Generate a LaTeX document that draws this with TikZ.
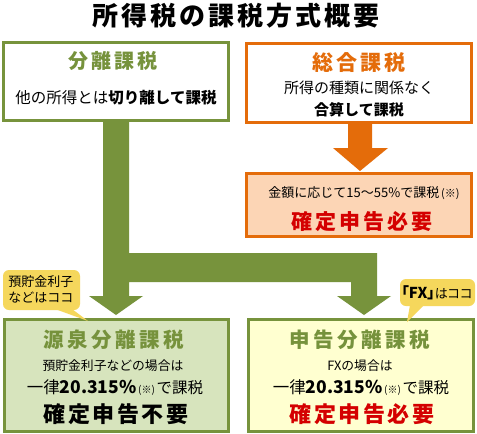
\documentclass[tikz,border=0pt]{standalone}
\usepackage{fontspec}
\setmainfont{Noto Sans CJK JP}
\newcommand\fsz[1]{\fontsize{#1}{#1}\selectfont}
\newcommand\palt{\addfontfeatures{RawFeature=+palt}}
\makeatletter
\newcommand\spread[2]{\def\spread@k{#1}\@tfor\spread@c:=#2\do{\spread@c\kern\spread@k\relax}\unkern}
\makeatother
\definecolor{grn}{HTML}{77933C}
\definecolor{grntxt}{HTML}{76923C}
\definecolor{org}{HTML}{E46C0A}
\definecolor{orgfill}{HTML}{FCD5B5}
\definecolor{grnfill}{HTML}{D7E4BD}
\definecolor{ylwfill}{HTML}{FFFFD0}
\definecolor{callout}{HTML}{F5D75C}
\definecolor{redtxt}{HTML}{D40000}
\tikzset{
  gbox/.style={draw=grn, line width=3pt, inner sep=0pt},
  obox/.style={draw=org, line width=3pt, inner sep=0pt},
  txt/.style={inner sep=0pt, anchor=center}
}
\begin{document}
\begin{tikzpicture}[x=1pt,y=-1pt]
\useasboundingbox (0,0) rectangle (477,434);
\fill[white] (0,0) rectangle (477,434);
% title
\node[txt] (title) at (236,16) {\fsz{26}\bfseries\spread{3pt}{所得税の課税方式概要}};
% boxes
\node[gbox, fill=white, minimum width=225pt, minimum height=78pt] (sep) at (116,81) {};
\node[obox, fill=white, minimum width=225pt, minimum height=79pt] (sogo) at (359,82.5) {};
\node[obox, fill=orgfill, minimum width=225pt, minimum height=63pt] (need) at (359,205) {};
\node[gbox, fill=grnfill, minimum width=224pt, minimum height=112pt] (gensen) at (116.5,375.5) {};
\node[gbox, fill=ylwfill, minimum width=225pt, minimum height=112pt] (shinkoku) at (361,375.5) {};
% orange arrow
\fill[org] (348,122) -- (348,148) -- (333,148) -- (360,171) -- (388,148) -- (372,148) -- (372,122) -- cycle;
% green arrow
\fill[grn] (103,120) -- (103,296) -- (89,296) -- (116,315) -- (143,296) -- (129,296)
  -- (129,282) -- (351,282) -- (351,296) -- (337,296) -- (364,315) -- (391,296) -- (377,296)
  -- (377,253) -- (129,253) -- (129,120) -- cycle;
% callouts
\fill[callout, rounded corners=6pt] (3,270) rectangle (80,310);
\fill[callout] (55,309) -- (72,309) -- (88,321) -- cycle;
\fill[callout, rounded corners=6pt] (400,279) rectangle (475,306);
\fill[callout] (410,305) -- (424,305) -- (407,322) -- cycle;
\node[txt, align=center] (c1) at (41,289) {\fsz{13}預貯金利子\\[4pt]\fsz{13}などはココ};
\node[txt] (c2) at (437,293) {\palt{\fsz{15}\bfseries 「FX」}{\fsz{13}はココ}};
% texts top left
\node[txt, text=grntxt] (sepT) at (113,61) {\fsz{20}\bfseries\spread{3pt}{分離課税}};
\node[txt] (sepS) at (116,98) {\fsz{15.5}他の所得とは{\bfseries 切り離して課税}};
% texts top right
\node[txt, text=org] (sogoT) at (359,63) {\fsz{21}\bfseries\spread{2.8pt}{総合課税}};
\node[txt] (sogo1) at (359,88) {\fsz{15}所得の種類に関係なく};
\node[txt] (sogo2) at (359,110) {\fsz{15}\bfseries 合算して課税};
% need box
\node[txt] (need1) at (364,193) {\fsz{13}金額に応じて15～55\%で課税{\fsz{11}\,(※)}};
\node[txt, text=redtxt] (need2) at (362,222) {\fsz{21}\bfseries\spread{3pt}{確定申告必要}};
% gensen
\node[txt, text=grntxt] (genT) at (114,340) {\fsz{20.5}\bfseries\spread{3.5pt}{源泉分離課税}};
\node[txt] (gen1) at (113,366) {\fsz{12.8}預貯金利子などの場合は};
\node[txt] (gen2) at (115,388) {{\fsz{16.5}一律}{\fsz{17.5}\bfseries 20.315\%}{\fsz{10}\,(※)\,}{\fsz{15.5}で課税}};
\node[txt] (gen3) at (116,414) {\fsz{22}\bfseries\spread{2.5pt}{確定申告不要}};
% shinkoku
\node[txt, text=grntxt] (shT) at (360,340) {\fsz{20.5}\bfseries\spread{3.5pt}{申告分離課税}};
\node[txt] (sh1) at (360,366) {\fsz{12.8}FXの場合は};
\node[txt] (sh2) at (361,388) {{\fsz{16.5}一律}{\fsz{17.5}\bfseries 20.315\%}{\fsz{10}\,(※)\,}{\fsz{15.5}で課税}};
\node[txt, text=redtxt] (sh3) at (362,414) {\fsz{22}\bfseries\spread{2.5pt}{確定申告必要}};
\end{tikzpicture}
\end{document}
